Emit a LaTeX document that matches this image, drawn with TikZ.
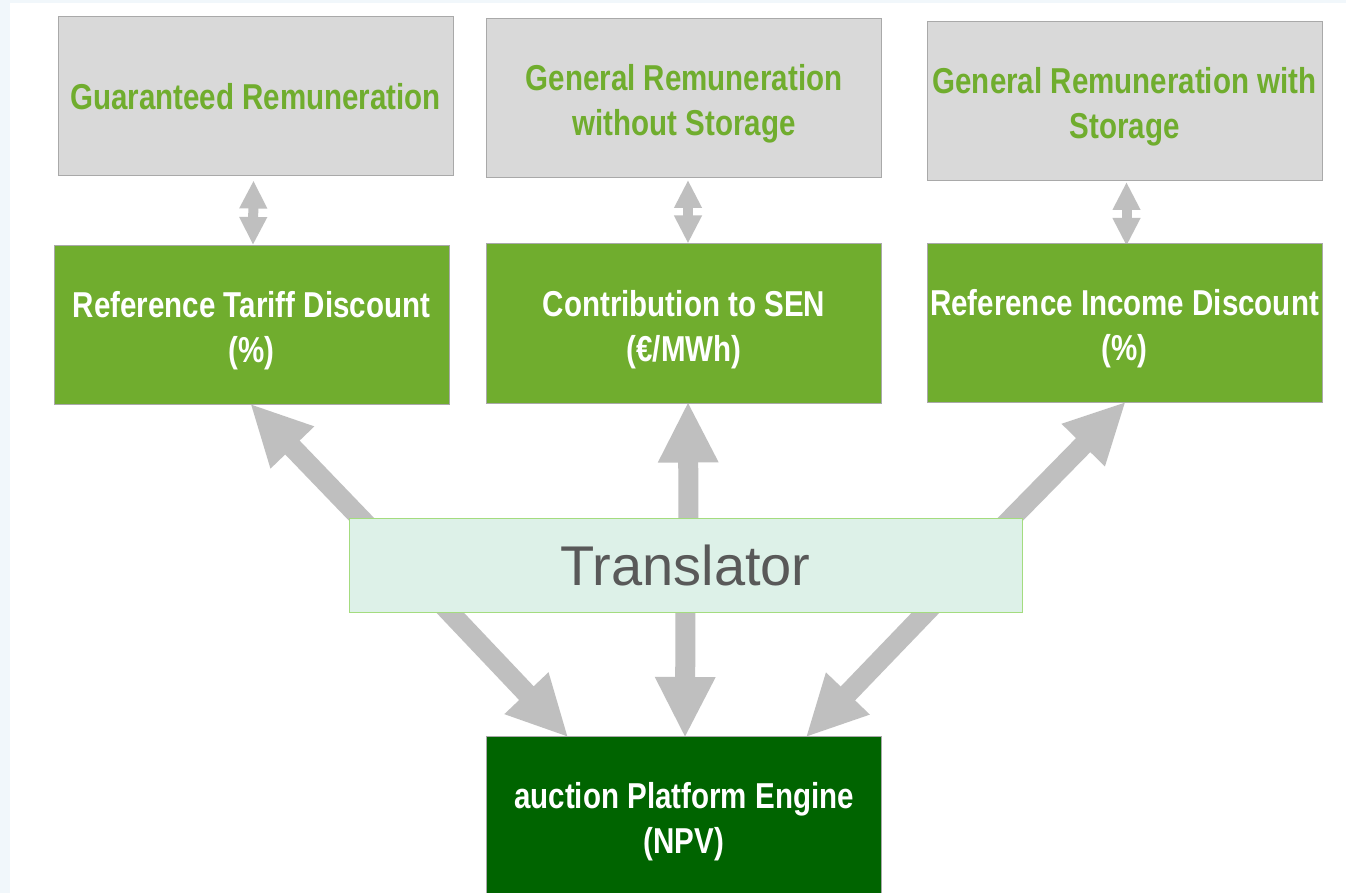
\documentclass[tikz,border=0pt]{standalone}
\usepackage{fontspec}
\setmainfont{Liberation Sans}
\newfontfamily\boxfont{Liberation Sans}[FakeStretch=0.82,BoldFont={Liberation Sans Bold}]
\usetikzlibrary{arrows.meta,backgrounds}
\definecolor{leafgreen}{HTML}{70AD2E}
\definecolor{darkleaf}{HTML}{006400}
\definecolor{palegray}{HTML}{D9D9D9}
\definecolor{edgegray}{HTML}{A9A9A9}
\definecolor{arrowgray}{HTML}{BFBFBF}
\definecolor{palemint}{HTML}{DDF1E8}
\definecolor{mintedge}{HTML}{A4DC7F}
\definecolor{pagetint}{HTML}{F1F7FB}
\newcommand{\firstline}{\rule{0pt}{38pt}}
\tikzset{
	basebox/.style={draw=edgegray, line width=1pt, minimum width=395pt, minimum height=159pt, inner sep=0pt, align=center, font=\boxfont\bfseries\fontsize{36}{45}\selectfont},
	graybox/.style={basebox, fill=palegray, text=leafgreen},
	greenbox/.style={basebox, fill=leafgreen, text=white},
	enginebox/.style={basebox, fill=darkleaf, text=white},
	bigarrow/.style={draw=arrowgray, line width=20pt, shorten >=-2pt, -{Triangle[length=61pt,width=56pt]}},
	linkarrow/.style={draw=arrowgray, line width=10pt, {Triangle[length=28pt,width=26pt]}-{Triangle[length=28pt,width=26pt]}}
}
\begin{document}
\begin{tikzpicture}[x=1pt,y=-1pt]
		\useasboundingbox (0,0) rectangle (1346,893);
		\node[graybox] (guaranteed) at (255.5,96.5) {Guaranteed Remuneration};
		\node[graybox] (nostorage) at (684,98) {\firstline General Remuneration\\without Storage};
		\node[graybox] (storage) at (1124.5,101) {\firstline General Remuneration with\\Storage};
		\node[greenbox] (tariff) at (251.5,325) {\firstline Reference Tariff Discount\\(\%)};
		\node[greenbox] (sen) at (684,323.5) {\firstline Contribution to SEN\\(€/MWh)};
		\node[greenbox] (income) at (1124.5,323) {\firstline Reference Income Discount\\(\%)};
		\node[draw=mintedge, fill=palemint, text=black!65, line width=1pt, minimum width=673pt, minimum height=94pt, inner sep=0pt, font=\fontsize{56}{60}\selectfont] (translator) at (685.5,565) {Translator};
		\node[enginebox] (engine) at (684,816) {\firstline auction Platform Engine\\(NPV)};
		\begin{scope}[on background layer]
			\fill[pagetint] (0,0) rectangle (1346,893);
			\fill[white] (10,3) rectangle (1346,893);
			\draw[linkarrow] ([xshift=-2pt,yshift=-4pt]guaranteed.south) -- ([xshift=1.5pt]tariff.north);
			\draw[linkarrow] ([xshift=4pt,yshift=-2pt]nostorage.south) -- ([xshift=4pt]sen.north);
			\draw[linkarrow] ([xshift=2pt,yshift=-1pt]storage.south) -- ([xshift=2pt,yshift=-3pt]income.north);
			\draw[bigarrow] ([xshift=-306.5pt,yshift=-20pt]translator.north) -- (tariff.south);
			\draw[bigarrow] ([xshift=3pt,yshift=-20pt]translator.north) -- ([xshift=4pt]sen.south);
			\draw[bigarrow] ([xshift=307pt,yshift=-20pt]translator.north) -- (income.south);
			\draw[bigarrow] ([xshift=-254.5pt,yshift=20pt]translator.south) -- ([xshift=-117pt]engine.north);
			\draw[bigarrow] ([yshift=20pt]translator.south) -- ([xshift=1pt]engine.north);
			\draw[bigarrow] ([xshift=259.5pt,yshift=20pt]translator.south) -- ([xshift=123pt]engine.north);
		\end{scope}
	\end{tikzpicture}
\end{document}
